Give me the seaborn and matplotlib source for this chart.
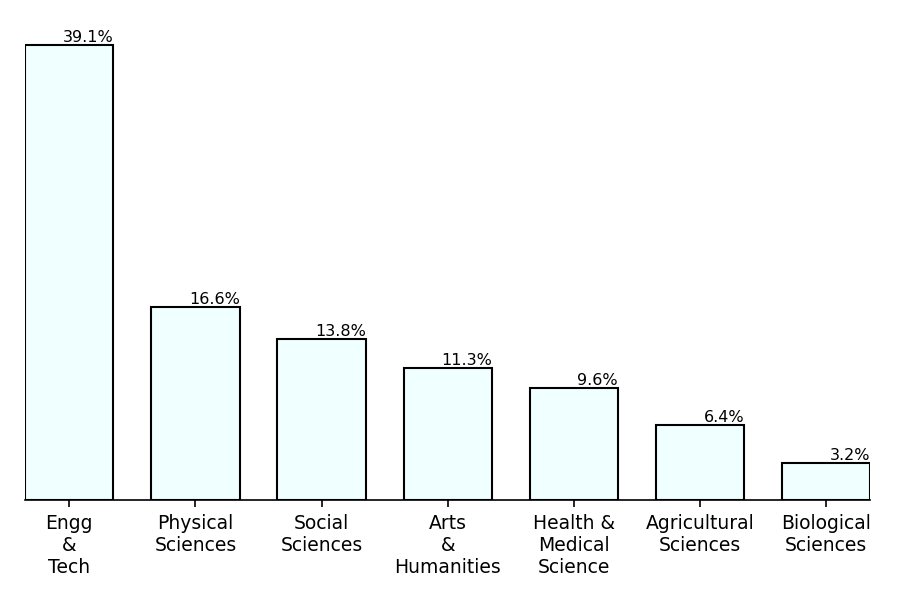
import matplotlib
matplotlib.use("Agg")
import matplotlib.pyplot as plt
import pandas as pd
import seaborn as sns

categories = [
    "Engg\n&\nTech",
    "Physical\nSciences",
    "Social\nSciences",
    "Arts\n&\nHumanities",
    "Health &\nMedical\nScience",
    "Agricultural\nSciences",
    "Biological\nSciences",
]
shares = [39.1, 16.6, 13.8, 11.3, 9.6, 6.4, 3.2]

df = pd.DataFrame({"field": categories, "share": shares})

sns.set_style("ticks", {"text.color": "black", "xtick.color": "black",
                        "axes.edgecolor": "black"})
plt.rcParams["font.family"] = ["DejaVu Sans"]

fig, ax = plt.subplots(figsize=(9, 6), dpi=100)
sns.barplot(data=df, x="field", y="share", color="azure", saturation=1,
            edgecolor="black", linewidth=1.5, width=0.7, ax=ax)

for patch, val in zip(ax.patches, shares):
    ax.text(patch.get_x() + patch.get_width(), patch.get_height(),
            f"{val}%", ha="right", va="bottom", fontsize=11.5, color="black")

ax.set_xlim(-0.35, len(categories) - 0.65)
ax.set_ylim(0, 41.055)
ax.set_xlabel("")
ax.set_ylabel("")
ax.set_yticks([])
ax.tick_params(axis="x", labelsize=13.5, length=5, width=1.2, pad=5.5)
ax.spines["bottom"].set_linewidth(1.2)
sns.despine(ax=ax, left=True)

fig.subplots_adjust(left=0.028, right=0.967, bottom=0.167, top=0.963)
fig.savefig("out.png", dpi=100)
